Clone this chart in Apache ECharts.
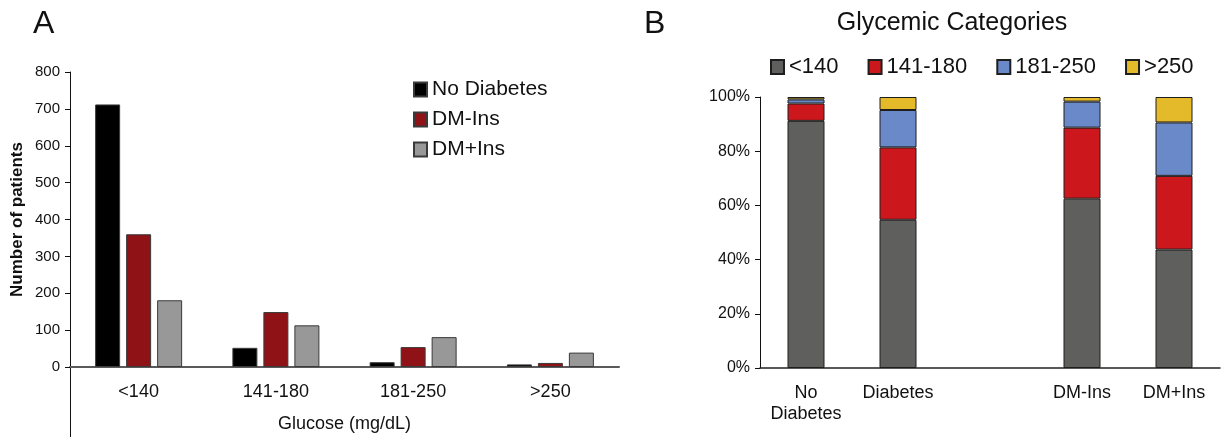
<!DOCTYPE html>
<html>
<head>
<meta charset="utf-8">
<script src="https://cdn.jsdelivr.net/npm/echarts@6/dist/echarts.min.js"></script>
<style>
  html, body { margin: 0; padding: 0; background: #fff; }
  #chart { width: 1226px; height: 439px; }
</style>
</head>
<body>
<div id="chart"></div>
<script>
// panel A: glucose categories vs number of patients
const glucoseCats = ['<140', '141-180', '181-250', '>250'];
const noDiabetes = [712, 52, 13, 7];
const dmMinusIns = [360, 149, 54, 11];
const dmPlusIns = [181, 113, 81, 39];
const countTicks = [0, 800, 100];   // min, max, step

// panel B: share of each glycemic category per group (%)
const groups = ['No\nDiabetes', 'Diabetes', '', 'DM-Ins', 'DM+Ins'];
const pctUnder140 = [91.2, 54.7, null, 62.5, 43.7];
const pct141to180 = [6.4, 26.7, null, 26.2, 27.2];
const pct181to250 = [1.5, 13.8, null, 9.6, 19.7];
const pctOver250 = [0.9, 4.8, null, 1.7, 9.4];

const FONT = 'Liberation Sans, Arial, sans-serif';

const leftBar = (name, data, color) => ({
  name: name,
  type: 'bar',
  xAxisIndex: 0,
  yAxisIndex: 0,
  data: data,
  barWidth: 25,
  barGap: '24%',
  itemStyle: { color: color, borderColor: '#3a3a3a', borderWidth: 1 }
});

const rightBar = (name, data, color) => ({
  name: name,
  type: 'bar',
  stack: 'pct',
  xAxisIndex: 1,
  yAxisIndex: 1,
  data: data,
  barWidth: 37,
  itemStyle: { color: color, borderColor: '#1e1e1e', borderWidth: 1 }
});

const myChart = echarts.init(document.getElementById('chart'));
myChart.setOption({
  animation: false,
  textStyle: { fontFamily: FONT },
  grid: [
    { left: 70, top: 72, width: 549, height: 295, outerBoundsMode: 'none', containLabel: false },
    { left: 760, top: 97, width: 460, height: 271, outerBoundsMode: 'none', containLabel: false }
  ],
  legend: [
    {
      data: ['No Diabetes', 'DM-Ins', 'DM+Ins'],
      orient: 'vertical',
      left: 408,
      top: 74,
      icon: 'rect',
      itemWidth: 13,
      itemHeight: 14,
      itemGap: 9,
      textStyle: { fontSize: 21, color: '#111', fontFamily: FONT }
    },
    {
      data: ['<140', '141-180', '181-250', '>250'],
      orient: 'horizontal',
      left: 765,
      top: 51,
      icon: 'rect',
      itemWidth: 13,
      itemHeight: 14,
      itemGap: 29,
      textStyle: { fontSize: 22, color: '#111', fontFamily: FONT }
    }
  ],
  graphic: [
    { type: 'text', left: 33, top: 8, style: { text: 'A', fontSize: 32, fill: '#111', fontFamily: FONT } },
    { type: 'text', left: 644, top: 8, style: { text: 'B', fontSize: 32, fill: '#111', fontFamily: FONT } },
    { type: 'text', x: 952, y: 23, style: { text: 'Glycemic Categories', fontSize: 25, fill: '#111', fontFamily: FONT, align: 'center', verticalAlign: 'middle' } },
    // panel A frame continues below the zero line
    { type: 'line', shape: { x1: 70.5, y1: 367, x2: 70.5, y2: 437 }, style: { stroke: '#111', lineWidth: 1 } }
  ],
  xAxis: [
    {
      gridIndex: 0,
      type: 'category',
      data: glucoseCats,
      name: 'Glucose (mg/dL)',
      nameLocation: 'middle',
      nameGap: 48,
      nameTextStyle: { fontSize: 18, color: '#111', fontFamily: FONT },
      axisLine: { lineStyle: { color: '#5a5a5a', width: 2 } },
      axisTick: { show: false },
      axisLabel: { fontSize: 18, color: '#111', margin: 16 }
    },
    {
      gridIndex: 1,
      type: 'category',
      data: groups,
      axisLine: { lineStyle: { color: '#222', width: 1.5 } },
      axisTick: { show: false },
      axisLabel: { fontSize: 18, color: '#111', margin: 15, lineHeight: 21, verticalAlign: 'top', interval: 0 }
    }
  ],
  yAxis: [
    {
      gridIndex: 0,
      type: 'value',
      min: countTicks[0],
      max: countTicks[1],
      interval: countTicks[2],
      name: 'Number of patients',
      nameLocation: 'middle',
      nameGap: 44,
      nameTextStyle: { fontSize: 17, fontWeight: 'bold', color: '#111', fontFamily: FONT },
      axisLine: { show: true, lineStyle: { color: '#111', width: 1 } },
      axisTick: { show: true, length: 5, lineStyle: { color: '#111' } },
      splitLine: { show: false },
      axisLabel: { fontSize: 15, color: '#111', margin: 10 }
    },
    {
      gridIndex: 1,
      type: 'value',
      min: 0,
      max: 100,
      interval: 20,
      axisLine: { show: true, lineStyle: { color: '#111', width: 1 } },
      axisTick: { show: true, length: 5, lineStyle: { color: '#111' } },
      splitLine: { show: false },
      axisLabel: { fontSize: 16, color: '#111', margin: 10, formatter: '{value}%' }
    }
  ],
  series: [
    leftBar('No Diabetes', noDiabetes, '#000000'),
    leftBar('DM-Ins', dmMinusIns, '#8e1216'),
    leftBar('DM+Ins', dmPlusIns, '#989898'),
    rightBar('<140', pctUnder140, '#5f5f5d'),
    rightBar('141-180', pct141to180, '#cc181c'),
    rightBar('181-250', pct181to250, '#6a89c9'),
    rightBar('>250', pctOver250, '#e4b92a')
  ]
});
</script>
</body>
</html>
